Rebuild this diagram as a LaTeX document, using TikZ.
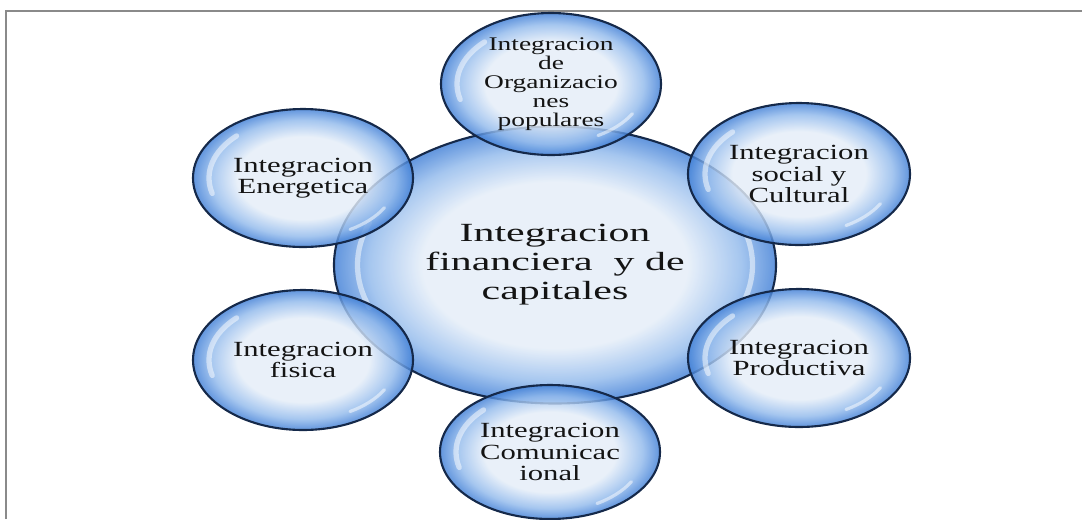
\documentclass[tikz,border=0pt]{standalone}
\usepackage{fontspec}
\setmainfont{Liberation Serif}[FakeStretch=1.42]
\newfontfamily\widefont{Liberation Serif}[FakeStretch=1.6]
\usepackage{xcolor}
\usepackage{tikz}
\usetikzlibrary{shapes.geometric}
\definecolor{bubin}{HTML}{E4EDF8}
\definecolor{bubmid}{HTML}{92BAEC}
\definecolor{bubout}{HTML}{3F7ED6}
\definecolor{rimline}{HTML}{15294A}
\definecolor{framegray}{HTML}{8A8A8A}
\pgfdeclareradialshading{bubble}{\pgfpoint{0bp}{0bp}}{color(0bp)=(bubin); color(15bp)=(bubin); color(21bp)=(bubmid); color(25bp)=(bubout); color(50bp)=(bubout)}

\begin{document}
\begin{tikzpicture}[
  every node/.style={text=black!92, align=center},
  bubble/.style={ellipse, draw=rimline, line width=1.2pt, shading=bubble,
    fill opacity=0.82, text opacity=1, inner sep=0pt,
    minimum width=4.4cm, minimum height=2.8cm,
    font=\fontsize{12.3}{12}\selectfont},
  core/.style={bubble, minimum width=8.84cm, minimum height=5.54cm,
    font=\widefont\fontsize{14.9}{16.5}\selectfont},
  gloss/.style={white, line width=3pt, opacity=0.5, line cap=round}
]
\useasboundingbox (0,0) rectangle (21.64,-10.38);
% frame
\draw[framegray, line width=1.1pt] (0.12,-10.38) -- (0.12,-0.22) -- (21.64,-0.22);

% centre
\node[core] (fin) at (11.10,-5.30) {Integracion\\financiera~ y de\\capitales};
\draw[gloss] (fin.center) ++(160:3.95 and 2.48) arc[start angle=160, end angle=200, x radius=3.95, y radius=2.48];
\draw[gloss] (fin.center) ++(-15:3.95 and 2.48) arc[start angle=-15, end angle=15, x radius=3.95, y radius=2.48];

% around
\node[bubble, minimum height=2.84cm, font=\fontsize{11}{10.8}\selectfont] (org) at (11.02,-1.68) {Integracion\\de\\Organizacio\\nes\\populares};
\node[bubble, minimum height=2.76cm] (ene) at (6.06,-3.56) {Integracion\\Energetica};
\node[bubble, minimum width=4.44cm, minimum height=2.84cm] (soc) at (15.98,-3.48) {Integracion\\social y\\Cultural};
\node[bubble] (fis) at (6.06,-7.20) {Integracion\\fisica};
\node[bubble, minimum width=4.44cm, minimum height=2.76cm] (pro) at (15.98,-7.16) {Integracion\\Productiva};
\node[bubble, minimum height=2.68cm] (com) at (11.00,-9.04) {Integracion\\Comunicac\\ional};

\foreach \n in {org,ene,soc,fis,pro,com}{
  \draw[gloss] (\n.center) ++(135:1.88 and 1.19) arc[start angle=135, end angle=195, x radius=1.88, y radius=1.19];
  \draw[gloss, line width=1.8pt] (\n.center) ++(300:1.88 and 1.19) arc[start angle=300, end angle=330, x radius=1.88, y radius=1.19];
}
\end{tikzpicture}
\end{document}
